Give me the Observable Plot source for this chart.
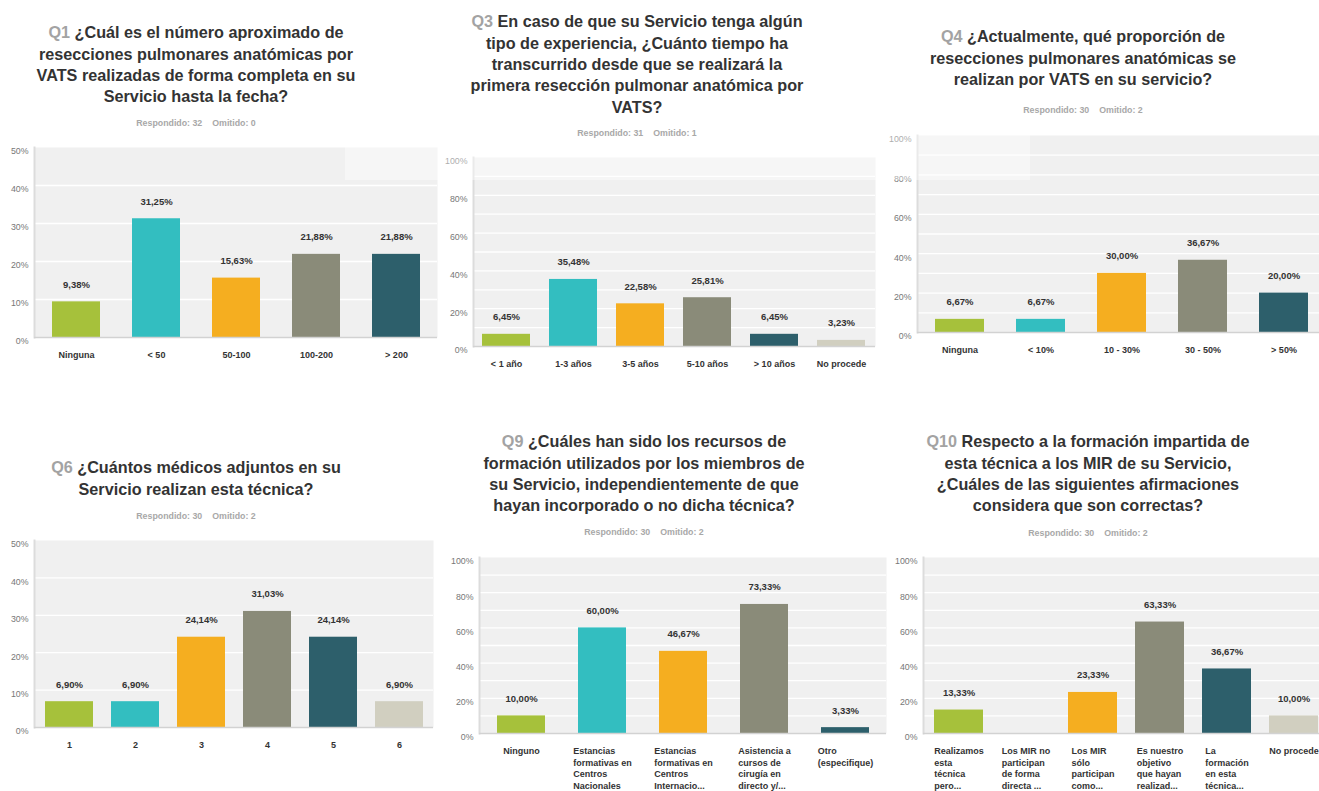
<!DOCTYPE html>
<html><head><meta charset="utf-8">
<script src="https://cdn.jsdelivr.net/npm/d3@7"></script>
<script src="https://cdn.jsdelivr.net/npm/@observablehq/plot@0.6"></script>
<style>
html,body{margin:0;padding:0;background:#fff;overflow:hidden;}
#root{position:relative;width:1319px;height:791px;overflow:hidden;font-family:"Liberation Sans",Arial,sans-serif;}
.title{position:absolute;z-index:3;text-align:center;font-weight:bold;font-size:16.2px;line-height:21.3px;color:#333;white-space:nowrap;transform:translateX(-50%);}
.title .q{color:#a3a3a3;}
.sub{position:absolute;z-index:3;font-weight:bold;font-size:8.8px;color:#a8a8a8;white-space:nowrap;transform:translate(-50%,-50%);}
.sub span+span{margin-left:10px;}
.chart{position:absolute;z-index:1;}
.veil{position:absolute;z-index:2;left:345px;top:0;width:685px;height:180px;background:rgba(255,255,255,0.4);pointer-events:none;}
</style></head><body><div id="root"></div>
<script>
// ---- data ----
const palette = ["#a6c13b","#33bec0","#f5ae20","#8a8b79","#2d5f6b","#d1cfc0"];

const q1Cats = ["Ninguna","< 50","50-100","100-200","> 200"];
const q1Vals = [9.38,31.25,15.63,21.88,21.88];

const q3Cats = ["< 1 año","1-3 años","3-5 años","5-10 años","> 10 años","No procede"];
const q3Vals = [6.45,35.48,22.58,25.81,6.45,3.23];

const q4Cats = ["Ninguna","< 10%","10 - 30%","30 - 50%","> 50%"];
const q4Vals = [6.67,6.67,30.00,36.67,20.00];

const q6Cats = ["1","2","3","4","5","6"];
const q6Vals = [6.90,6.90,24.14,31.03,24.14,6.90];

const q9Cats = ["Ninguno","Estancias\nformativas en\nCentros\nNacionales","Estancias\nformativas en\nCentros\nInternacio...","Asistencia a\ncursos de\ncirugía en\ndirecto y/...","Otro\n(especifique)"];
const q9Vals = [10.00,60.00,46.67,73.33,3.33];

const q10Cats = ["Realizamos\nesta\ntécnica\npero...","Los MIR no\nparticipan\nde forma\ndirecta ...","Los MIR\nsólo\nparticipan\ncomo...","Es nuestro\nobjetivo\nque hayan\nrealizad...","La\nformación\nen esta\ntécnica...","No procede"];
const q10Vals = [13.33,0,23.33,63.33,36.67,10.00];

const panels = [
  {q:"Q1", title:["¿Cuál es el número aproximado de","resecciones pulmonares anatómicas por","VATS realizadas de forma completa en su","Servicio hasta la fecha?"],
   resp:"Respondido: 32", omit:"Omitido: 0", cx:196, ty:33, sy:123,
   cats:q1Cats, vals:q1Vals, yMax:50, labelStep:10, gridStep:10,
   left:0, top:130, width:440, height:250, mL:34, mR:3, mT:17, mB:43, pad:0.4},
  {q:"Q3", title:["En caso de que su Servicio tenga algún","tipo de experiencia, ¿Cuánto tiempo ha","transcurrido desde que se realizará la","primera resección pulmonar anatómica por","VATS?"],
   resp:"Respondido: 31", omit:"Omitido: 1", cx:637, ty:22, sy:133,
   cats:q3Cats, vals:q3Vals, yMax:100, labelStep:20, gridStep:10,
   left:440, top:140, width:440, height:240, mL:33, mR:5, mT:17, mB:34, pad:0.28},
  {q:"Q4", title:["¿Actualmente, qué proporción de","resecciones pulmonares anatómicas se","realizan por VATS en su servicio?"],
   resp:"Respondido: 30", omit:"Omitido: 2", cx:1083, ty:37, sy:110,
   cats:q4Cats, vals:q4Vals, yMax:100, labelStep:20, gridStep:10,
   left:880, top:120, width:450, height:260, mL:37, mR:4, mT:15, mB:48, pad:0.39},
  {q:"Q6", title:["¿Cuántos médicos adjuntos en su","Servicio realizan esta técnica?"],
   resp:"Respondido: 30", omit:"Omitido: 2", cx:196, ty:468, sy:516,
   cats:q6Cats, vals:q6Vals, yMax:50, labelStep:10, gridStep:10,
   left:0, top:525, width:440, height:266, mL:34, mR:7, mT:15, mB:64, pad:0.28},
  {q:"Q9", title:["¿Cuáles han sido los recursos de","formación utilizados por los miembros de","su Servicio, independientemente de que","hayan incorporado o no dicha técnica?"],
   resp:"Respondido: 30", omit:"Omitido: 2", cx:644, ty:442, sy:532,
   cats:q9Cats, vals:q9Vals, yMax:100, labelStep:20, gridStep:10,
   left:440, top:540, width:450, height:251, mL:39, mR:4, mT:17, mB:58, pad:0.41},
  {q:"Q10", title:["Respecto a la formación impartida de","esta técnica a los MIR de su Servicio,","¿Cuáles de las siguientes afirmaciones","considera que son correctas?"],
   resp:"Respondido: 30", omit:"Omitido: 2", cx:1088, ty:442, sy:533,
   cats:q10Cats, vals:q10Vals, yMax:100, labelStep:20, gridStep:10,
   left:880, top:540, width:460, height:251, mL:43, mR:11, mT:17, mB:58, pad:0.27}
];

// ---- rendering ----
const root = document.getElementById("root");
const FONT = '"Liberation Sans", Arial, sans-serif';
const ctx = document.createElement("canvas").getContext("2d");
ctx.font = 'bold 9px "Liberation Sans", Arial, sans-serif';
const fmt = v => v.toFixed(2).replace(".", ",") + "%";

for (const p of panels) {
  const t = document.createElement("div");
  t.className = "title";
  t.style.left = p.cx + "px";
  t.style.top = (p.ty - 10.65) + "px";
  t.innerHTML = `<span class="q">${p.q}</span> ` + p.title.join("<br>");
  root.appendChild(t);

  const s = document.createElement("div");
  s.className = "sub";
  s.style.left = p.cx + "px";
  s.style.top = p.sy + "px";
  s.innerHTML = `<span>${p.resp}</span><span>${p.omit}</span>`;
  root.appendChild(s);

  const data = p.cats.map((c, i) => ({cat: c, val: p.vals[i]}));
  const labelMarks = p.cats.map(c => {
    const w = d3.max(c.split("\n"), l => ctx.measureText(l).width);
    return Plot.text([c], {x: d => d, frameAnchor: "bottom", text: d => d,
      textAnchor: "start", dx: -w / 2, dy: 12, lineAnchor: "top", lineHeight: 1.3,
      fontSize: 9, fontWeight: "bold", fill: "#333"});
  });

  const chart = Plot.plot({
    width: p.width, height: p.height,
    marginLeft: p.mL, marginRight: p.mR, marginTop: p.mT, marginBottom: p.mB,
    x: {type: "band", domain: p.cats, paddingInner: p.pad, paddingOuter: p.pad / 2, axis: null},
    y: {domain: [0, p.yMax]},
    color: {domain: p.cats, range: palette.slice(0, p.cats.length)},
    style: {fontFamily: FONT, overflow: "visible", background: "transparent"},
    marks: [
      Plot.frame({fill: "#f0f0f0", stroke: "none"}),
      Plot.ruleY(d3.range(p.gridStep, p.yMax, p.gridStep), {stroke: "#ffffff", strokeWidth: 1.3}),
      Plot.frame({anchor: "left", stroke: "#dcdcdc", strokeWidth: 2}),
      Plot.axisY({ticks: d3.range(0, p.yMax + 1, p.labelStep), tickFormat: d => d + "%", label: null, tickSize: 0, tickPadding: 6, fontSize: 8.8, fill: "#777", dy: 4}),
      Plot.barY(data, {x: "cat", y: "val", fill: "cat"}),
      Plot.ruleY([0], {stroke: "#d2d2d2", strokeWidth: 1.5}),
      Plot.text(data.filter(d => d.val > 0), {x: "cat", y: "val", text: d => fmt(d.val), dy: -17, fontSize: 9.5, fontWeight: "bold", fill: "#333"}),
      ...labelMarks
    ]
  });
  chart.classList.add("chart");
  chart.style.left = p.left + "px";
  chart.style.top = p.top + "px";
  root.appendChild(chart);
}
const veil = document.createElement("div");
veil.className = "veil";
root.appendChild(veil);
</script>
</body></html>
